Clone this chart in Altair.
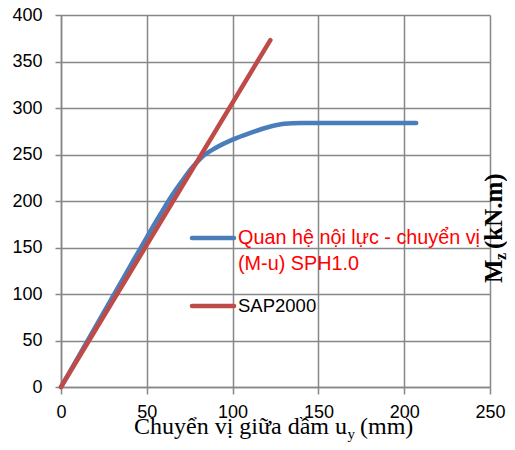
import altair as alt
import pandas as pd

# ---- data ----
blue_x = [0, 40, 50, 58, 64, 70, 76, 82, 90, 100, 110, 120, 130, 140, 207]
blue_y = [0, 129, 161, 186, 204, 220, 235, 247, 257, 266, 273, 279, 283, 284, 284]
red_x = [0, 122]
red_y = [0, 373]
x_ticks = [0, 50, 100, 150, 200, 250]
y_ticks = [0, 50, 100, 150, 200, 250, 300, 350, 400]
legend_blue = ["Quan hệ nội lực - chuyển vị", "(M-u) SPH1.0"]
legend_red = "SAP2000"
x_title_main = "Chuyển vị giữa dầm u"
x_title_sub = "y"
x_title_end = "(mm)"
y_title_main = "M"
y_title_sub = "z"
y_title_end = "(kN.m)"
colors = ["#4a7ebb", "#be4b48"]

W, H = 429, 372
GRID = "#878787"

xs = alt.Scale(domain=[0, 250], nice=False)
ys = alt.Scale(domain=[0, 400], nice=False)

common_axis = dict(
    title=None, grid=True, gridColor=GRID, gridWidth=1.5,
    domainColor=GRID, domainWidth=1.5, tickColor=GRID, tickWidth=1.5,
    labelFont="Liberation Sans", labelFontSize=18, labelColor="black",
    labelFlush=False, labelOverlap=False,
)
x_axis = alt.Axis(values=x_ticks, tickSize=7, labelPadding=9, **common_axis)
y_axis = alt.Axis(values=y_ticks, tickSize=6, labelPadding=13, **common_axis)

blue_df = pd.DataFrame({"x": blue_x, "y": blue_y})
red_df = pd.DataFrame({"x": red_x, "y": red_y})
one = pd.DataFrame({"a": [0]})

blue = alt.Chart(blue_df).mark_line(
    color=colors[0], strokeWidth=4.5, interpolate="monotone", strokeCap="round"
).encode(
    x=alt.X("x:Q", scale=xs, axis=x_axis),
    y=alt.Y("y:Q", scale=ys, axis=y_axis),
)
red = alt.Chart(red_df).mark_line(
    color=colors[1], strokeWidth=4.5, strokeCap="round"
).encode(
    x=alt.X("x:Q", scale=xs, axis=x_axis),
    y=alt.Y("y:Q", scale=ys, axis=y_axis),
)

# legend
leg_blue_line = alt.Chart(one).mark_rule(color=colors[0], strokeWidth=4.5, strokeCap="round").encode(
    x=alt.value(131), x2=alt.value(173), y=alt.value(223))
leg_red_line = alt.Chart(one).mark_rule(color=colors[1], strokeWidth=4.5, strokeCap="round").encode(
    x=alt.value(131), x2=alt.value(173), y=alt.value(291))
leg_blue_text = alt.Chart(one).mark_text(
    text=legend_blue, align="left", baseline="alphabetic", font="Liberation Sans",
    fontSize=19.8, color="#ff0000", lineHeight=26).encode(x=alt.value(177), y=alt.value(229))
leg_red_text = alt.Chart(one).mark_text(
    text=legend_red, align="left", baseline="alphabetic", font="Liberation Sans",
    fontSize=18.5, color="black").encode(x=alt.value(177), y=alt.value(297))

# x title
xt1 = alt.Chart(one).mark_text(text=x_title_main, align="right", baseline="alphabetic",
    font="Liberation Serif", fontSize=24, color="black").encode(x=alt.value(286), y=alt.value(419))
xt2 = alt.Chart(one).mark_text(text=x_title_sub, align="left", baseline="alphabetic",
    font="Liberation Serif", fontSize=15, color="black").encode(x=alt.value(286.5), y=alt.value(424))
xt3 = alt.Chart(one).mark_text(text=x_title_end, align="left", baseline="alphabetic",
    font="Liberation Serif", fontSize=24, color="black").encode(x=alt.value(299), y=alt.value(419))

# y title (rotated, reading upward)
yt1 = alt.Chart(one).mark_text(text=y_title_main, angle=270, align="left", baseline="alphabetic",
    font="Liberation Serif", fontWeight="bold", fontSize=25, color="black").encode(x=alt.value(441), y=alt.value(268))
yt2 = alt.Chart(one).mark_text(text=y_title_sub, angle=270, align="left", baseline="alphabetic",
    font="Liberation Serif", fontWeight="bold", fontSize=16, color="black").encode(x=alt.value(445), y=alt.value(245))
yt3 = alt.Chart(one).mark_text(text=y_title_end, angle=270, align="left", baseline="alphabetic",
    font="Liberation Serif", fontWeight="bold", fontSize=25, color="black").encode(x=alt.value(441), y=alt.value(234))

chart = alt.layer(
    blue, red, leg_blue_line, leg_red_line, leg_blue_text, leg_red_text,
    xt1, xt2, xt3, yt1, yt2, yt3
).properties(
    width=W, height=H,
    padding={"left": 53, "top": 7, "right": 17, "bottom": 55},
    autosize=alt.AutoSizeParams(type="none"),
    background="white",
).configure_view(stroke=None)

chart.save("out.html", embed_options={"renderer": "svg", "actions": False})
